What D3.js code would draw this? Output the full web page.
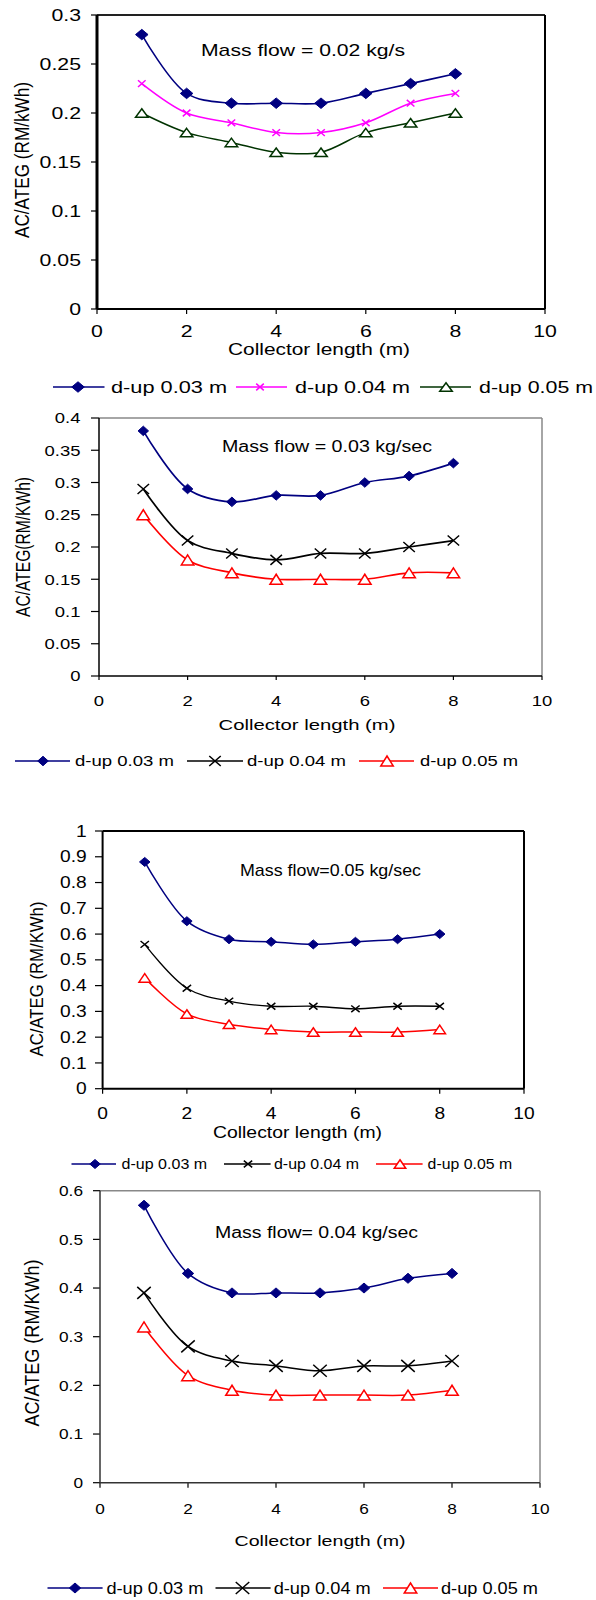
<!DOCTYPE html>
<html><head><meta charset="utf-8">
<script src="https://cdn.jsdelivr.net/npm/d3@7"></script>
<style>html,body{margin:0;padding:0;background:#fff;} svg{display:block;}</style>
</head><body>
<svg id="chart" width="596" height="1600"></svg>
<script>
// Collector lengths shared by all panels (m)
const collectorLength = [1, 2, 3, 4, 5, 6, 7, 8];
const seriesLabels = ["d-up 0.03 m", "d-up 0.04 m", "d-up 0.05 m"];

// AC/ATEG at mass flow 0.02 kg/s
const mf002_dup003 = [0.28, 0.22, 0.21, 0.21, 0.21, 0.22, 0.23, 0.24];
const mf002_dup004 = [0.23, 0.20, 0.19, 0.18, 0.18, 0.19, 0.21, 0.22];
const mf002_dup005 = [0.20, 0.18, 0.17, 0.16, 0.16, 0.18, 0.19, 0.20];

// AC/ATEG at mass flow 0.03 kg/sec
const mf003_dup003 = [0.38, 0.29, 0.27, 0.28, 0.28, 0.30, 0.31, 0.33];
const mf003_dup004 = [0.29, 0.21, 0.19, 0.18, 0.19, 0.19, 0.20, 0.21];
const mf003_dup005 = [0.25, 0.18, 0.16, 0.15, 0.15, 0.15, 0.16, 0.16];

// AC/ATEG at mass flow 0.05 kg/sec
const mf005_dup003 = [0.88, 0.65, 0.58, 0.57, 0.56, 0.57, 0.58, 0.60];
const mf005_dup004 = [0.56, 0.39, 0.34, 0.32, 0.32, 0.31, 0.32, 0.32];
const mf005_dup005 = [0.43, 0.29, 0.25, 0.23, 0.22, 0.22, 0.22, 0.23];

// AC/ATEG at mass flow 0.04 kg/sec
const mf004_dup003 = [0.57, 0.43, 0.39, 0.39, 0.39, 0.40, 0.42, 0.43];
const mf004_dup004 = [0.39, 0.28, 0.25, 0.24, 0.23, 0.24, 0.24, 0.25];
const mf004_dup005 = [0.32, 0.22, 0.19, 0.18, 0.18, 0.18, 0.18, 0.19];

// Axis ticks
const xTicks = [0, 2, 4, 6, 8, 10];
const yTicks002 = [0, 0.05, 0.1, 0.15, 0.2, 0.25, 0.3];
const yTicks003 = [0, 0.05, 0.1, 0.15, 0.2, 0.25, 0.3, 0.35, 0.4];
const yTicks005 = [0, 0.1, 0.2, 0.3, 0.4, 0.5, 0.6, 0.7, 0.8, 0.9, 1];
const yTicks004 = [0, 0.1, 0.2, 0.3, 0.4, 0.5, 0.6];
const xAxisTitle = "Collector length (m)";

const NAVY = "#000080", MAGENTA = "#ff00ff", DKGREEN = "#003300", BLACK = "#000000", RED = "#ff0000";

// Layout of each panel
const panels = [
  {
    title: "Mass flow = 0.02 kg/s", yTitle: "AC/ATEG (RM/kWh)",
    series: [mf002_dup003, mf002_dup004, mf002_dup005], yTicks: yTicks002,
    colors: [NAVY, MAGENTA, DKGREEN], markers: ["diamond", "x", "triangle"],
    msize: [[12.5, 10.5], [7.6, 6.7], [12.5, 8.5]], lineW: [1.6, 1.5, 1.5],
    plot: { l: 97, r: 545, t: 15, b: 309 },
    frame: { left: ["#000", 3], bottom: ["#000", 2], top: ["#222", 2], right: ["#000", 2] },
    font: 16, sx: 1.33, tickRight: 81, tickStart: 91, xTickLen: 5, xLabelY: 331,
    titleBox: { x: 201, cy: 50, w: 204 }, xTitleBox: { cx: 319, cy: 349, w: 182 },
    yTitleBox: { cx: 22, cy: 160, len: 156, sy: 1.3, font: 16 },
    legend: { cy: 387, font: 16, items: [
      { l0: 53, l1: 104.5, m: 78, tx: 111, tw: 116 },
      { l0: 236, l1: 287, m: 260, tx: 295, tw: 115 },
      { l0: 420, l1: 471, m: 446, tx: 479, tw: 114 }] }
  },
  {
    title: "Mass flow = 0.03 kg/sec", yTitle: "AC/ATEG(RM/KWh)",
    series: [mf003_dup003, mf003_dup004, mf003_dup005], yTicks: yTicks003,
    colors: [NAVY, BLACK, RED], markers: ["diamond", "x", "triangle"],
    msize: [[10.5, 9.5], [11.5, 10], [12.5, 10]], lineW: [1.7, 1.7, 1.7],
    plot: { l: 99, r: 542, t: 418, b: 676 },
    frame: { left: ["#000", 1.5], bottom: ["#000", 1.5], top: ["#888", 1.5], right: ["#888", 1.5] },
    font: 15, sx: 1.23, tickRight: 80.5, tickStart: 91, xTickLen: 4, xLabelY: 701,
    titleBox: { x: 222, cy: 446, w: 210 }, xTitleBox: { cx: 307, cy: 725, w: 177 },
    yTitleBox: { cx: 23, cy: 547, len: 140, sy: 1.3, font: 15 },
    legend: { cy: 761, font: 15, items: [
      { l0: 15, l1: 70, m: 43, tx: 75, tw: 99 },
      { l0: 187, l1: 243, m: 215, tx: 247, tw: 99 },
      { l0: 359, l1: 414, m: 387, tx: 420, tw: 98 }] }
  },
  {
    title: "Mass flow=0.05 kg/sec", yTitle: "AC/ATEG (RM/KWh)",
    series: [mf005_dup003, mf005_dup004, mf005_dup005], yTicks: yTicks005,
    colors: [NAVY, BLACK, RED], markers: ["diamond", "x", "triangle"],
    msize: [[10.5, 9], [8.4, 6.7], [11.5, 8.5]], lineW: [1.5, 1.3, 1.5],
    plot: { l: 102.6, r: 524, t: 831, b: 1088.7 },
    frame: { left: ["#000", 2], bottom: ["#000", 2], top: ["#000", 2], right: ["#000", 2] },
    font: 16, sx: 1.2, tickRight: 86.7, tickStart: 95, xTickLen: 5, xLabelY: 1113,
    titleBox: { x: 240, cy: 870, w: 181 }, xTitleBox: { cx: 297.5, cy: 1132, w: 169 },
    yTitleBox: { cx: 36, cy: 979, len: 155, sy: 1.2, font: 16 },
    legend: { cy: 1164, font: 14, items: [
      { l0: 71.5, l1: 116, m: 95, tx: 121.6, tw: 85.5 },
      { l0: 224, l1: 270.6, m: 248, tx: 274, tw: 85 },
      { l0: 376, l1: 422.6, m: 400, tx: 427.6, tw: 84.5 }] }
  },
  {
    title: "Mass flow= 0.04 kg/sec", yTitle: "AC/ATEG (RM/KWh)",
    series: [mf004_dup003, mf004_dup004, mf004_dup005], yTicks: yTicks004,
    colors: [NAVY, BLACK, RED], markers: ["diamond", "x", "triangle"],
    msize: [[11.4, 10], [13.5, 12], [12.5, 10]], lineW: [1.5, 1.5, 1.5],
    plot: { l: 100, r: 540, t: 1190.7, b: 1482.7 },
    frame: { left: ["#333", 1.5], bottom: ["#333", 1.5], top: ["#888", 1.5], right: ["#888", 1.5] },
    font: 15, sx: 1.15, tickRight: 83, tickStart: 93, xTickLen: 5, xLabelY: 1509,
    titleBox: { x: 215, cy: 1232, w: 203 }, xTitleBox: { cx: 320, cy: 1541, w: 171 },
    yTitleBox: { cx: 32, cy: 1343, len: 167, sy: 1.25, font: 16 },
    legend: { cy: 1588, font: 16, items: [
      { l0: 47.5, l1: 102.6, m: 75, tx: 106.4, tw: 97 },
      { l0: 215.5, l1: 270.6, m: 242.5, tx: 273.7, tw: 97 },
      { l0: 383, l1: 438, m: 410.5, tx: 441, tw: 97 }] }
  }
];

const svg = d3.select("#chart");
const FONT = "'Liberation Sans', Arial, sans-serif";
const fmt = d => String(+d.toFixed(2));

// Marker outline centred on (0,0)
function markerPath(type, w, h) {
  const a = w / 2, b = h / 2;
  if (type === "diamond") return `M0,${-b}L${a},0L0,${b}L${-a},0Z`;
  if (type === "x") return `M${-a},${-b}L${a},${b}M${-a},${b}L${a},${-b}`;
  return `M0,${-b}L${a},${b}L${-a},${b}Z`;
}
function drawMarker(g, type, color, size, x, y) {
  const p = g.append("path")
    .attr("transform", `translate(${x},${y})`)
    .attr("d", markerPath(type, size[0], size[1]))
    .attr("stroke", color).attr("stroke-width", type === "diamond" ? 1 : 1.5);
  if (type === "diamond") p.attr("fill", color);
  else if (type === "triangle") p.attr("fill", "#fff").attr("stroke-linejoin", "miter");
  else p.attr("fill", "none");
}
// Horizontally widened text
function wideText(g, x, y, str, size, sx, anchor) {
  g.append("text")
    .attr("transform", `translate(${x},${y}) scale(${sx},1)`)
    .attr("text-anchor", anchor).attr("dy", "0.35em")
    .attr("font-family", FONT).attr("font-size", size).attr("fill", "#000")
    .text(str);
}
function fittedText(g, x, y, str, size, width, anchor) {
  g.append("text")
    .attr("x", x).attr("y", y).attr("dy", "0.35em")
    .attr("text-anchor", anchor)
    .attr("font-family", FONT).attr("font-size", size).attr("fill", "#000")
    .attr("textLength", width).attr("lengthAdjust", "spacingAndGlyphs")
    .text(str);
}

panels.forEach(P => {
  const g = svg.append("g");
  const x = d3.scaleLinear().domain([0, 10]).range([P.plot.l, P.plot.r]);
  const y = d3.scaleLinear().domain([0, d3.max(P.yTicks)]).range([P.plot.b, P.plot.t]);

  // y ticks and labels
  P.yTicks.forEach(v => {
    g.append("line").attr("x1", P.tickStart).attr("x2", P.plot.l)
      .attr("y1", y(v)).attr("y2", y(v)).attr("stroke", "#000").attr("stroke-width", 1.2);
    wideText(g, P.tickRight, y(v), fmt(v), P.font, P.sx, "end");
  });
  // x ticks and labels
  xTicks.forEach(v => {
    g.append("line").attr("x1", x(v)).attr("x2", x(v))
      .attr("y1", P.plot.b).attr("y2", P.plot.b + P.xTickLen).attr("stroke", "#000").attr("stroke-width", 1.2);
    wideText(g, x(v), P.xLabelY, fmt(v), P.font, P.sx, "middle");
  });

  // plot frame
  const f = P.frame, pl = P.plot;
  const edge = (x1, y1, x2, y2, s) => g.append("line").attr("x1", x1).attr("y1", y1).attr("x2", x2).attr("y2", y2)
    .attr("stroke", s[0]).attr("stroke-width", s[1]);
  edge(pl.l, pl.t, pl.r, pl.t, f.top);
  edge(pl.r, pl.t, pl.r, pl.b, f.right);
  edge(pl.l, pl.b, pl.r, pl.b, f.bottom);
  edge(pl.l, pl.t, pl.l, pl.b, f.left);

  // series lines and markers
  const line = d3.line().x((d, i) => x(collectorLength[i])).y(d => y(d)).curve(d3.curveCatmullRom.alpha(0.5));
  P.series.forEach((vals, si) => {
    g.append("path").attr("d", line(vals)).attr("fill", "none")
      .attr("stroke", P.colors[si]).attr("stroke-width", P.lineW[si]);
  });
  P.series.forEach((vals, si) => {
    vals.forEach((v, i) => drawMarker(g, P.markers[si], P.colors[si], P.msize[si], x(collectorLength[i]), y(v)));
  });

  // titles
  fittedText(g, P.titleBox.x, P.titleBox.cy, P.title, P.font + 1, P.titleBox.w, "start");
  fittedText(g, P.xTitleBox.cx, P.xTitleBox.cy, xAxisTitle, P.font, P.xTitleBox.w, "middle");
  const yt = P.yTitleBox;
  g.append("text")
    .attr("transform", `translate(${yt.cx},${yt.cy}) rotate(-90) scale(1,${yt.sy})`)
    .attr("text-anchor", "middle").attr("dy", "0.35em")
    .attr("font-family", FONT).attr("font-size", yt.font).attr("fill", "#000")
    .attr("textLength", yt.len).attr("lengthAdjust", "spacingAndGlyphs")
    .text(P.yTitle);

  // legend
  P.legend.items.forEach((it, si) => {
    g.append("line").attr("x1", it.l0).attr("x2", it.l1).attr("y1", P.legend.cy).attr("y2", P.legend.cy)
      .attr("stroke", P.colors[si]).attr("stroke-width", P.lineW[si]);
    drawMarker(g, P.markers[si], P.colors[si], P.msize[si], it.m, P.legend.cy);
    fittedText(g, it.tx, P.legend.cy, seriesLabels[si], P.legend.font, it.tw, "start");
  });
});
</script>
</body></html>
